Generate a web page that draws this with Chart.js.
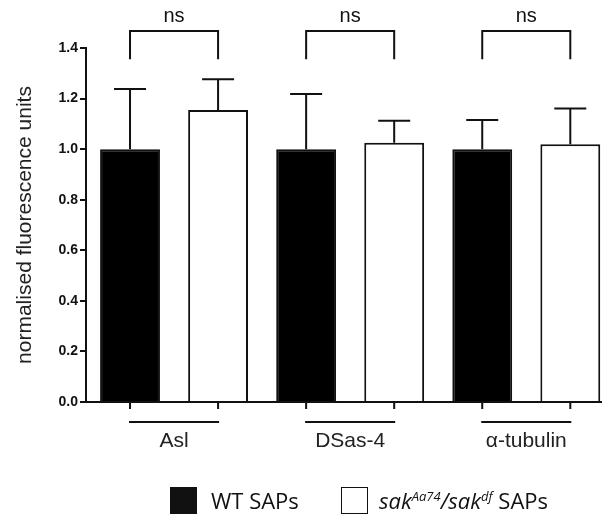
<!DOCTYPE html>
<html>
<head>
<meta charset="utf-8">
<script src="https://cdn.jsdelivr.net/npm/chart.js@4.4.1/dist/chart.umd.min.js"></script>
<style>
  html, body { margin: 0; padding: 0; background: #fff; }
  #wrap { position: relative; width: 602px; height: 514px; overflow: hidden; }
  .item { position: absolute; top: 487px; font-family: "Open Sans", sans-serif; font-size: 22px; color: #111; white-space: nowrap; line-height: 26px; }
  .box { position: absolute; top: 487px; width: 27px; height: 27px; border: 1.5px solid #111; box-sizing: border-box; }
  .item sup { font-size: 13px; vertical-align: 8px; line-height: 0; }
</style>
</head>
<body>
<div id="wrap">
  <canvas id="chart" width="602" height="514"></canvas>
  <span class="box" style="left:170px;background:#111"></span>
  <span class="item" style="left:211px">WT SAPs</span>
  <span class="box" style="left:341px;background:#fff"></span>
  <span class="item" style="left:379px"><i>sak<sup>Aa74</sup>/sak<sup>df</sup></i> SAPs</span>
</div>
<script>
const categories = ["Asl", "DSas-4", "\u03b1-tubulin"];
const wtMean = [1.0, 1.0, 1.0];
const wtErr = [0.238, 0.218, 0.115];
const sakMean = [1.155, 1.025, 1.019];
const sakErr = [0.121, 0.087, 0.142];
const yTicks = [0, 0.2, 0.4, 0.6, 0.8, 1.0, 1.2, 1.4];
const sigLabels = ["ns", "ns", "ns"];
const bracketTop = 1.467;   // bracket line level
const bracketFoot = 1.356;  // where bracket legs stop

const toPoints = arr => arr.map((v, i) => ({ x: i, y: v }));

// top-only error bars + brackets + x labels underline
const extras = {
  id: "extras",
  afterDraw(chart) {
    const ctx = chart.ctx;
    const y = chart.scales.y;
    const errs = [wtErr, sakErr];
    const means = [wtMean, sakMean];
    ctx.save();
    ctx.strokeStyle = "#111";
    ctx.fillStyle = "#111";
    ctx.lineWidth = 2;
    // error bars
    for (let d = 0; d < 2; d++) {
      const meta = chart.getDatasetMeta(d);
      meta.data.forEach((bar, i) => {
        const top = y.getPixelForValue(means[d][i] + errs[d][i]);
        const base = y.getPixelForValue(means[d][i]);
        ctx.beginPath();
        ctx.moveTo(bar.x, base);
        ctx.lineTo(bar.x, top);
        ctx.moveTo(bar.x - 16, top);
        ctx.lineTo(bar.x + 16, top);
        ctx.stroke();
      });
    }
    const m0 = chart.getDatasetMeta(0).data;
    const m1 = chart.getDatasetMeta(1).data;
    const bottom = chart.chartArea.bottom;
    ctx.font = "20px 'Liberation Sans', Arial, sans-serif";
    ctx.textAlign = "center";
    ctx.textBaseline = "middle";
    categories.forEach((c, i) => {
      const a = m0[i].x, b = m1[i].x;
      // significance bracket
      const yl = y.getPixelForValue(bracketTop);
      const yf = y.getPixelForValue(bracketFoot);
      ctx.beginPath();
      ctx.moveTo(a, yf);
      ctx.lineTo(a, yl);
      ctx.lineTo(b, yl);
      ctx.lineTo(b, yf);
      ctx.stroke();
      ctx.fillText(sigLabels[i], (a + b) / 2, yl - 15);
      // small ticks under bars and group underline
      ctx.beginPath();
      ctx.moveTo(a, bottom);
      ctx.lineTo(a, bottom + 7);
      ctx.moveTo(b, bottom);
      ctx.lineTo(b, bottom + 7);
      ctx.moveTo(a - 1, bottom + 20);
      ctx.lineTo(b + 1, bottom + 20);
      ctx.stroke();
    });
    ctx.restore();
  }
};

new Chart(document.getElementById("chart"), {
  type: "bar",
  data: {
    datasets: [
      {
        label: "WT SAPs",
        data: toPoints(wtMean),
        backgroundColor: "#000",
        borderColor: "#111",
        borderWidth: 2,
      },
      {
        label: "sakAa74/sakdf SAPs",
        data: toPoints(sakMean),
        backgroundColor: "#fff",
        borderColor: "#111",
        borderWidth: 2,
      },
    ],
  },
  options: {
    responsive: false,
    animation: false,
    layout: { padding: { top: 48, right: 0, left: 0, bottom: 0 } },
    categoryPercentage: 1.0,
    barPercentage: 0.68,
    plugins: {
      legend: { display: false },
      tooltip: { enabled: false },
    },
    scales: {
      x: {
        type: "linear",
        offset: false,
        min: -0.5,
        max: 2.43,
        afterBuildTicks: s => { s.ticks = categories.map((c, i) => ({ value: i })); },
        afterFit: s => { s.height = 112; },
        grid: { display: false, drawTicks: false, offset: false },
        border: { display: true, color: "#111", width: 2 },
        ticks: {
          callback: v => categories[v],
          font: { size: 21, family: "'Liberation Sans', Arial, sans-serif" },
          color: "#222",
          padding: 27,
          maxRotation: 0,
        },
      },
      y: {
        min: 0,
        max: 1.4,
        afterBuildTicks: s => { s.ticks = yTicks.map(v => ({ value: v })); },
        afterFit: s => { s.width = 86; },
        grid: { drawOnChartArea: false, drawTicks: true, tickLength: 6, color: "#111", lineWidth: 2 },
        border: { display: true, color: "#111", width: 2 },
        ticks: {
          callback: v => v.toFixed(1),
          font: { size: 14, weight: "bold", family: "'Liberation Sans', Arial, sans-serif" },
          color: "#111",
          padding: 2,
        },
        title: {
          display: true,
          text: "normalised fluorescence units",
          font: { size: 21, family: "'Liberation Sans', Arial, sans-serif" },
          color: "#222",
          padding: { top: 13, bottom: 0 },
        },
      },
    },
  },
  plugins: [extras],
});
</script>
</body>
</html>
